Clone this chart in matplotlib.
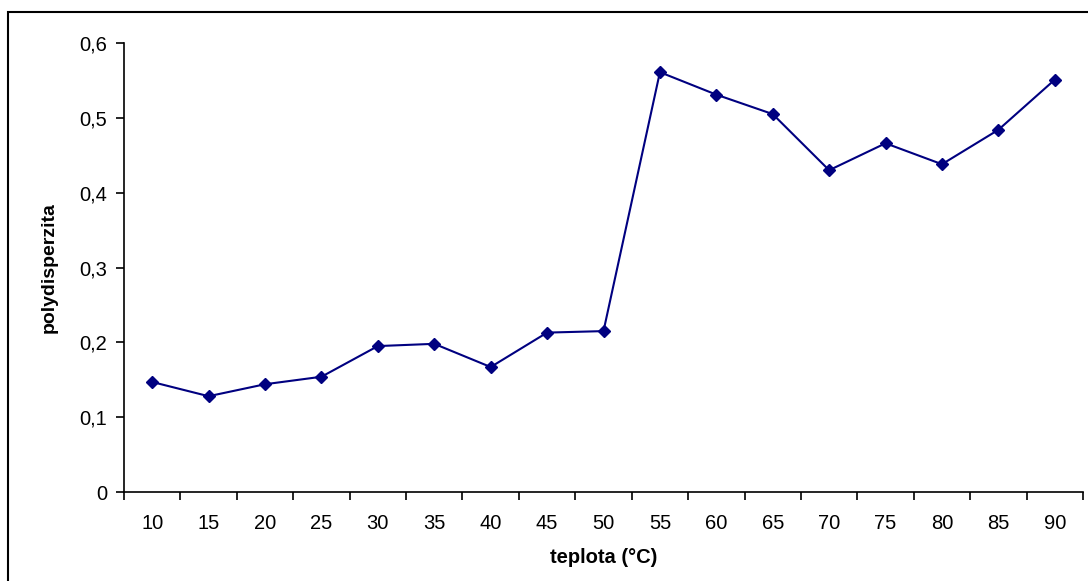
import matplotlib.pyplot as plt
import numpy as np
from matplotlib.patches import Rectangle
from matplotlib.ticker import FuncFormatter

plt.rcParams['font.family'] = ['Liberation Sans', 'DejaVu Sans']

teplota = [10, 15, 20, 25, 30, 35, 40, 45, 50, 55, 60, 65, 70, 75, 80, 85, 90]
polydisperzita = [0.147, 0.128, 0.144, 0.154, 0.195, 0.198, 0.167, 0.213, 0.215,
                  0.561, 0.531, 0.505, 0.430, 0.466, 0.438, 0.484, 0.551]

fig = plt.figure(figsize=(10.88, 5.81), dpi=100)
ax = fig.add_axes([124 / 1088, 1 - 492 / 581, (1083 - 124) / 1088, (492 - 43) / 581])

x = np.arange(len(teplota))
ax.plot(x, polydisperzita, color='#000080', linewidth=1.5,
        marker='D', markersize=6.5, markerfacecolor='#000080', markeredgecolor='#000080')

ax.set_xlim(-0.5, len(teplota) - 0.5)
ax.set_ylim(0, 0.6)

# category axis: ticks between categories, labels at centres
ax.set_xticks(np.arange(len(teplota) + 1) - 0.5)
ax.set_xticklabels([])
ax.set_xticks(x, minor=True)
ax.set_xticklabels([str(t) for t in teplota], minor=True)
ax.tick_params(axis='x', which='major', direction='out', length=6, width=1.2)
ax.tick_params(axis='x', which='minor', length=0, pad=15.5, labelsize=14.5)

ax.set_yticks(np.arange(0, 0.61, 0.1))
ax.yaxis.set_major_formatter(FuncFormatter(lambda v, p: '0' if v == 0 else f'{v:.1f}'.replace('.', ',')))
ax.tick_params(axis='y', direction='out', length=6, width=1.2, pad=6, labelsize=14.5)

for s in ['top', 'right']:
    ax.spines[s].set_visible(False)
for s in ['left', 'bottom']:
    ax.spines[s].set_linewidth(1.2)

ax.set_xlabel('teplota (°C)', fontsize=14.5, fontweight='bold', labelpad=11)
ax.set_ylabel('polydisperzita', fontsize=14, fontweight='bold', labelpad=16)

# outer chart frame (right and bottom edges fall outside the image)
fig.patches.append(Rectangle((8 / 1088, -0.1), 1.2, 1.1 - 11.5 / 581,
                             transform=fig.transFigure, fill=False,
                             edgecolor='black', linewidth=1.5))

fig.savefig('out.png', dpi=100)
